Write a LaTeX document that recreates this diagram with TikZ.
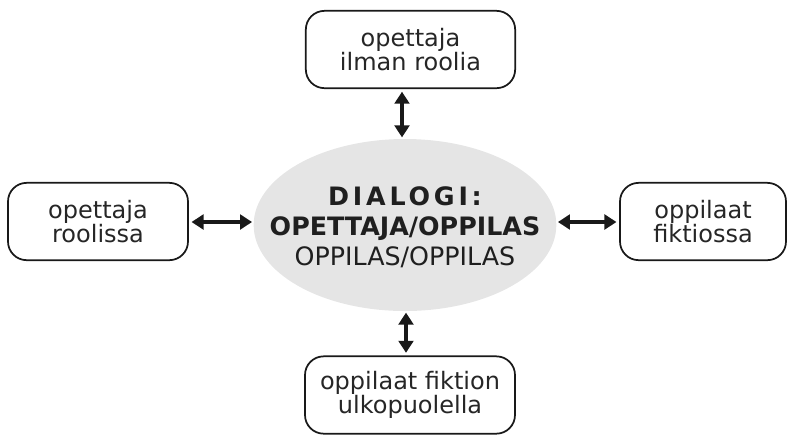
\documentclass[tikz,border=0pt]{standalone}
\usepackage{fontspec}
\setmainfont{DejaVu Sans}
\usetikzlibrary{shapes.geometric,arrows.meta}
\begin{document}
\begin{tikzpicture}[x=0.75pt,y=-0.75pt,
  rolebox/.style={draw=black!90,line width=1.3pt,rounded corners=14pt,
    minimum width=#1,minimum height=58pt,align=center,
    font=\fontsize{18}{18}\selectfont,text=black!85},
  rolebox/.default=150pt,
  link/.style={line width=2.4pt,draw=black!90,
    {Triangle[length=9pt,width=11pt]}-{Triangle[length=9pt,width=11pt]},
    shorten <=2pt,shorten >=1pt}]
  \useasboundingbox (0,0) rectangle (794,437);
  % central dialogue ellipse and its heading
  \node[ellipse,fill=black!10,minimum width=227pt,minimum height=129pt,
        inner sep=0pt] (c) at (405,225) {};
  \node[align=center,text=black!88,inner sep=0pt,
        font=\fontsize{19}{22.5}\selectfont] (ct) at ([yshift=-1.5pt]c.center)
    {\bfseries\addfontfeatures{LetterSpace=15}DIALOGI:\\
     \bfseries OPETTAJA/OPPILAS\\
     OPPILAS/OPPILAS};
  % the four participant positions
  \node[rolebox=157pt] (t) at (410.5,49.5) {opettaja\\ilman roolia};
  \node[rolebox=135pt] (l) at (98,221.5) {opettaja\\roolissa};
  \node[rolebox=124.5pt] (r) at (703,221.5) {oppilaat\\fiktiossa};
  \node[rolebox=157.5pt] (b) at (410,395) {oppilaat fiktion\\ulkopuolella};
  % two-way links
  \draw[link] (t.south -| 402,0) -- (c.north -| 402,0);
  \draw[link] (l.east |- 0,222) -- (c.west |- 0,222);
  \draw[link] (r.west |- 0,222) -- (c.east |- 0,222);
  \draw[link] (b.north -| 406,0) -- (c.south -| 406,0);
\end{tikzpicture}
\end{document}
